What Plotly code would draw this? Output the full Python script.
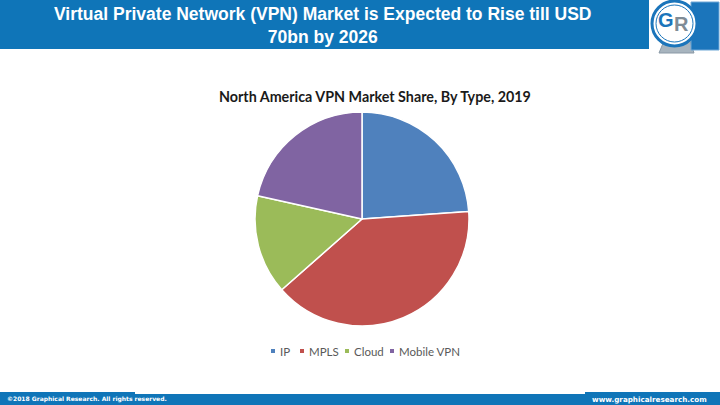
import plotly.graph_objects as go

categories = ["IP", "MPLS", "Cloud", "Mobile VPN"]
shares = [23.9, 39.6, 15.0, 21.5]
colors = ["#4F81BD", "#C0504D", "#9BBB59", "#8064A2"]

header_title = "Virtual Private Network (VPN) Market is Expected to Rise till USD<br>70bn by 2026"
chart_title = "North America VPN Market Share, By Type, 2019"
footer_left = "©2018 Graphical Research. All rights reserved."
footer_right = "www.graphicalresearch.com"

W, H = 720, 405
cx, cy, r = 362, 219, 107
BLUE = "#0F75B8"

fig = go.Figure()
fig.add_trace(go.Pie(
    labels=categories, values=shares, sort=False, direction="clockwise",
    rotation=0, textinfo="none", hoverinfo="label+percent", showlegend=False,
    marker=dict(colors=colors, line=dict(color="white", width=1.5)),
    domain=dict(x=[(cx - r) / W, (cx + r) / W], y=[1 - (cy + r) / H, 1 - (cy - r) / H]),
))

def px(x):
    return x / W

def py(y):
    return 1 - y / H

shapes = [
    # header bar
    dict(type="rect", xref="paper", yref="paper", x0=0, x1=px(649), y0=py(49), y1=1,
         fillcolor=BLUE, line_width=0, layer="below"),
    # footer bar
    dict(type="rect", xref="paper", yref="paper", x0=0, x1=1, y0=0, y1=py(394),
         fillcolor=BLUE, line_width=0, layer="below"),
    dict(type="rect", xref="paper", yref="paper", x0=0, x1=px(135), y0=0, y1=py(392),
         fillcolor=BLUE, line_width=0, layer="below"),
    dict(type="rect", xref="paper", yref="paper", x0=px(585), x1=1, y0=0, y1=py(392),
         fillcolor=BLUE, line_width=0, layer="below"),
    # logo: grey base
    dict(type="path", xref="paper", yref="paper",
         path=f"M {px(659)} {py(53)} L {px(694)} {py(53)} L {px(690)} {py(41)} L {px(664)} {py(41)} Z",
         fillcolor="#A7B4BE", line=dict(color="#8A99A6", width=1), layer="below"),
    # logo: right blue block
    dict(type="rect", xref="paper", yref="paper", x0=px(691), x1=px(719), y0=py(50), y1=py(2),
         fillcolor="#1B75BB", line=dict(color="#6FA7D6", width=1), layer="below"),
    # logo: ring
    dict(type="circle", xref="paper", yref="paper", x0=px(652), x1=px(697), y0=py(46), y1=py(1),
         fillcolor="white", line=dict(color="#1B75BB", width=3), layer="below"),
    dict(type="circle", xref="paper", yref="paper", x0=px(656), x1=px(693), y0=py(42), y1=py(5),
         fillcolor="white", line=dict(color="#1B75BB", width=1), layer="below"),
]

annotations = [
    dict(text="<b>" + header_title + "</b>", x=px(322), y=py(25), xref="paper", yref="paper",
         showarrow=False, font=dict(family="Liberation Sans Narrow, Arial Narrow, Liberation Sans", size=17.5, color="white"),
         xanchor="center", yanchor="middle", align="center"),
    dict(text="<b>G</b>", x=px(666), y=py(20), xref="paper", yref="paper", showarrow=False,
         font=dict(family="Liberation Sans, Arial", size=20, color="#1B75BB"),
         xanchor="center", yanchor="middle"),
    dict(text="<b>R</b>", x=px(681), y=py(24), xref="paper", yref="paper", showarrow=False,
         font=dict(family="Liberation Sans, Arial", size=20, color="#7F8C96"),
         xanchor="center", yanchor="middle"),
    dict(text="<b>" + chart_title + "</b>", x=px(375), y=py(96), xref="paper", yref="paper",
         showarrow=False, font=dict(family="Lato, Open Sans, sans-serif", size=14.3, color="#1A1A1A"),
         xanchor="center", yanchor="middle"),
    dict(text="<b>" + footer_left + "</b>", x=px(5), y=py(399), xref="paper", yref="paper",
         showarrow=False, font=dict(family="DejaVu Sans", size=6, color="white"),
         xanchor="left", yanchor="middle"),
    dict(text="<b>" + footer_right + "</b>", x=px(709), y=py(399), xref="paper", yref="paper",
         showarrow=False, font=dict(family="DejaVu Sans", size=7.2, color="white"),
         xanchor="right", yanchor="middle"),
]

# custom compact legend (marker square + label)
legend_x = [273, 302, 347, 392]
legend_y = 351
for cat, col, lx in zip(categories, colors, legend_x):
    shapes.append(dict(type="rect", xref="paper", yref="paper",
                       x0=px(lx - 2), x1=px(lx + 2), y0=py(legend_y + 2), y1=py(legend_y - 2),
                       fillcolor=col, line_width=0))
    annotations.append(dict(text=cat, x=px(lx + 5), y=py(legend_y), xref="paper", yref="paper",
                            showarrow=False, xanchor="left", yanchor="middle",
                            font=dict(family="Lato, Open Sans, sans-serif", size=11.5, color="#595959")))

fig.update_layout(
    width=W, height=H, margin=dict(l=0, r=0, t=0, b=0),
    paper_bgcolor="white", plot_bgcolor="white",
    shapes=shapes, annotations=annotations,
    showlegend=False,
)

fig.write_html("out.html", config={"displayModeBar": False},
               post_script="document.body.style.margin='0';document.body.style.overflow='hidden';")
